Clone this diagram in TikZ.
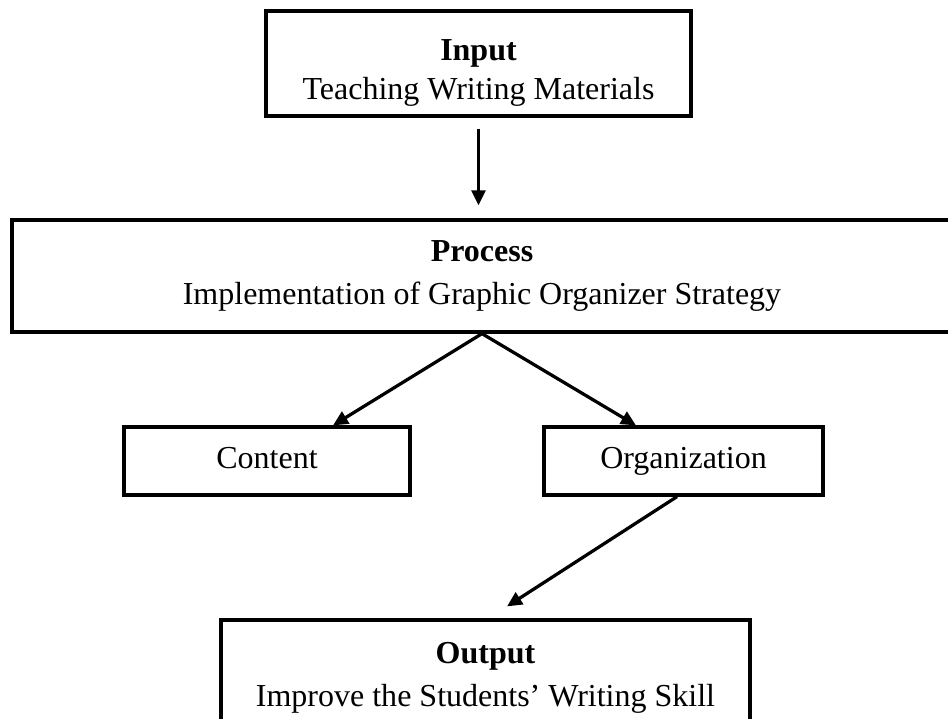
\documentclass[tikz,border=0pt]{standalone}
\usepackage{fontspec}
\setmainfont{Liberation Serif}
\usetikzlibrary{arrows.meta}

\begin{document}
\begin{tikzpicture}[>={Triangle[length=6pt,width=5.5pt]}, line width=1.3pt,
        stage/.style={draw, align=center, inner sep=0pt, font=\fontsize{12.8}{15.4}\selectfont}]
        \useasboundingbox (-191.4pt,25.4pt) rectangle (187.8pt,-261.8pt);
        \clip (-191.4pt,25.4pt) rectangle (187.8pt,-261.8pt);
        
        % Input stage
        \node[stage, minimum width=170pt, minimum height=42pt] (input) {\rule{0pt}{16pt}\textbf{Input}\\[0.3pt] Teaching Writing Materials};
        
        % Process stage, wide box across the page
        \node[stage, minimum width=376pt, minimum height=44.8pt] (process) [below of=input, node distance=85pt, xshift=1.4pt] {\textbf{Process}\\[1.6pt] Implementation of Graphic Organizer Strategy};
        
        % Aspects of writing
        \node[stage, minimum width=114.4pt, minimum height=27.2pt] (content) [below of=process, node distance=74pt, xshift=-86pt] {\strut Content};
        \node[stage, minimum width=111.6pt, minimum height=27.2pt] (organization) [right of=content, node distance=166.6pt] {\strut Organization};
        
        % Output stage
        \node[stage, minimum width=211.6pt, minimum height=46.4pt] (output) [below of=process, node distance=160.8pt, xshift=1.4pt] {\textbf{Output}\\[1.6pt] Improve the Students’ Writing Skill};
        
        \path[->]
        % Input feeds the process
        (input.south) edge [shorten <=4.4pt, shorten >=5.2pt] (input.south |- process.north)
        
        % Process splits into content and organization
        (process.south) edge ([xshift=26.4pt]content.north)
        (process.south) edge ([xshift=-19pt]organization.north)
        
        % Organization leads to the output
        ([xshift=-2.6pt]organization.south) edge ([xshift=8.6pt, yshift=4.8pt]output.north);
    \end{tikzpicture}
\end{document}
